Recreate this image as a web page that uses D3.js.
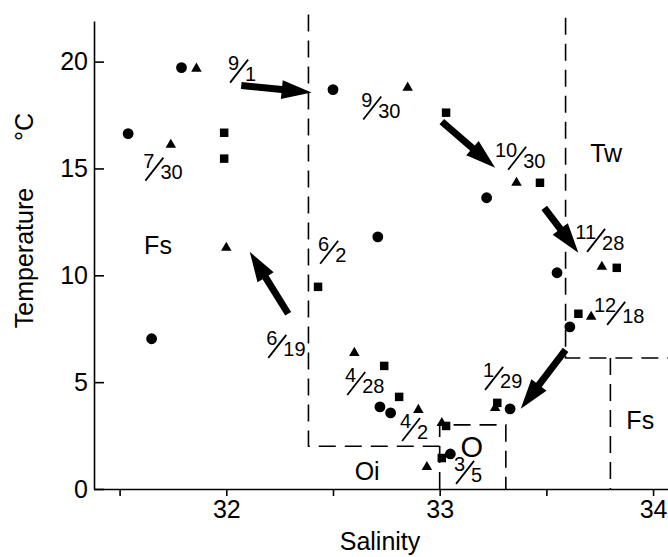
<!DOCTYPE html>
<html lang="en">
<head>
<meta charset="UTF-8">
<title>Temperature - Salinity</title>
<script src="https://d3js.org/d3.v7.min.js"></script>
<style>
  body { margin: 0; background: #fff; }
  svg { display: block; font-family: "Liberation Sans", Arial, sans-serif; }
  .axis path, .axis line { stroke: #000; stroke-width: 1.6; }
  .axis text { font-size: 25px; fill: #000; font-family: "Liberation Sans", Arial, sans-serif; }
  .bound { fill: none; stroke: #000; stroke-width: 1.6; stroke-dasharray: 17 9; }
  .arrow { fill: #000; }
  .frac { font-size: 20px; }
  .zone { font-size: 25px; }
  .title { font-size: 25px; }
</style>
</head>
<body>
<svg id="chart" width="668" height="557"></svg>
<script>
// [salinity, temperature] per sample, one array per symbol
const circles = [
  [31.79, 19.72], [31.54, 16.63], [31.65, 7.03], [32.50, 18.69],
  [32.71, 11.80], [33.22, 13.63], [33.55, 10.12], [33.61, 7.59],
  [33.33, 3.75], [32.72, 3.84], [32.77, 3.56], [33.05, 1.64]
];
const triangles = [
  [31.86, 19.67], [31.74, 16.11], [32.85, 18.78], [32.00, 11.29],
  [33.36, 14.33], [33.76, 10.40], [33.71, 8.06], [32.60, 6.37],
  [32.90, 3.70], [33.01, 3.09], [32.94, 1.03], [33.26, 3.79]
];
const squares = [
  [31.99, 16.67], [31.99, 15.46], [33.03, 17.61], [33.47, 14.33],
  [33.83, 10.35], [33.65, 8.20], [32.43, 9.46], [32.74, 5.76],
  [32.81, 4.31], [33.03, 2.95], [33.01, 1.45], [33.27, 4.03]
];

const xTicks = [31.5, 32, 32.5, 33, 33.5, 34];
const yTicks = [0, 5, 10, 15, 20];

// water mass boundaries (dashed)
const boundaries = [
  [[32.385, 22.2], [32.385, 2.0], [33.0, 2.0]],
  [[33.0, 0], [33.0, 3.0], [33.31, 3.0], [33.31, 0]],
  [[33.59, 22.05], [33.59, 6.13], [34.07, 6.13]],
  [[33.80, 6.13], [33.80, 0]]
];

// seasonal arrows: tail -> tip
const arrows = [
  [[32.07, 18.88], [32.40, 18.55]],
  [[33.01, 17.19], [33.26, 15.03]],
  [[33.49, 13.16], [33.65, 11.05]],
  [[33.59, 6.51], [33.38, 3.75]],
  [[32.29, 8.20], [32.11, 11.10]]
];

// date labels month/day
const dates = [
  {num: "9", den: "1", s: 32.06, t: 19.58},
  {num: "9", den: "30", s: 32.684, t: 17.85},
  {num: "10", den: "30", s: 33.363, t: 15.50},
  {num: "11", den: "28", s: 33.733, t: 11.66},
  {num: "12", den: "18", s: 33.827, t: 8.24},
  {num: "1", den: "29", s: 33.255, t: 5.20},
  {num: "3", den: "5", s: 33.119, t: 0.80},
  {num: "4", den: "2", s: 32.866, t: 2.81},
  {num: "4", den: "28", s: 32.609, t: 4.96},
  {num: "6", den: "19", s: 32.239, t: 6.70},
  {num: "6", den: "2", s: 32.482, t: 11.10},
  {num: "7", den: "30", s: 31.663, t: 14.99}
];

const zones = [
  {name: "Tw", s: 33.78, t: 15.74, size: 25},
  {name: "Fs", s: 31.68, t: 11.43, size: 25},
  {name: "Fs", s: 33.94, t: 3.23, size: 25},
  {name: "Oi", s: 32.66, t: 0.84, size: 25},
  {name: "O", s: 33.15, t: 1.97, size: 29}
];

const svg = d3.select("#chart");
const x = d3.scaleLinear().domain([31.38, 34.07]).range([94, 668]);
const y = d3.scaleLinear().domain([0, 21.9]).range([489, 21]);

// axes
const xAxis = svg.append("g")
  .attr("class", "axis")
  .attr("transform", `translate(0,${y(0)})`)
  .call(d3.axisBottom(x).tickValues(xTicks).tickSizeInner(7).tickSizeOuter(0).tickPadding(4)
    .tickFormat(d => Number.isInteger(d) ? d : ""));

svg.append("g")
  .attr("class", "axis")
  .attr("transform", `translate(${x.range()[0]},0)`)
  .call(d3.axisLeft(y).tickValues(yTicks).tickSizeInner(-10).tickSizeOuter(0).tickPadding(6));

// boundaries
const line = d3.line().x(d => x(d[0])).y(d => y(d[1]));
svg.selectAll(".bound").data(boundaries).enter().append("path")
  .attr("class", "bound")
  .attr("d", line);

// arrows
function arrowPath(a) {
  const x0 = x(a[0][0]), y0 = y(a[0][1]), x1 = x(a[1][0]), y1 = y(a[1][1]);
  const L = Math.hypot(x1 - x0, y1 - y0);
  const ux = (x1 - x0) / L, uy = (y1 - y0) / L;
  const nx = -uy, ny = ux;
  const hl = 30, hw = 9.5, sw = 3.5;
  const bx = x1 - ux * hl, by = y1 - uy * hl;
  const pts = [
    [x0 + nx * sw, y0 + ny * sw],
    [bx + nx * sw, by + ny * sw],
    [bx + nx * hw, by + ny * hw],
    [x1, y1],
    [bx - nx * hw, by - ny * hw],
    [bx - nx * sw, by - ny * sw],
    [x0 - nx * sw, y0 - ny * sw]
  ];
  return "M" + pts.map(p => p.join(",")).join("L") + "Z";
}
svg.selectAll(".arrow").data(arrows).enter().append("path")
  .attr("class", "arrow")
  .attr("d", arrowPath);

// symbols
const series = [
  {data: circles, type: d3.symbolCircle, size: 92},
  {data: triangles, type: d3.symbolTriangle, size: 48},
  {data: squares, type: d3.symbolSquare, size: 72}
];
series.forEach(sr => {
  svg.append("g").selectAll("path").data(sr.data).enter().append("path")
    .attr("transform", d => `translate(${x(d[0])},${y(d[1])})`)
    .attr("d", d3.symbol().type(sr.type).size(sr.size))
    .attr("fill", "#000");
});

// date labels
const dg = svg.append("g").selectAll("g").data(dates).enter().append("g")
  .attr("class", "frac")
  .attr("transform", d => `translate(${x(d.s)},${y(d.t)})`);
dg.append("text").attr("x", 0).attr("y", -1).attr("text-anchor", "end").text(d => d.num);
dg.append("line").attr("x1", -9).attr("y1", 12).attr("x2", 9).attr("y2", -11)
  .attr("stroke", "#000").attr("stroke-width", 1.8);
dg.append("text").attr("x", 6).attr("y", 10).attr("text-anchor", "start").text(d => d.den);

// zone labels
svg.append("g").selectAll("text").data(zones).enter().append("text")
  .attr("x", d => x(d.s))
  .attr("y", d => y(d.t))
  .attr("dy", "0.36em")
  .attr("text-anchor", "middle")
  .attr("font-size", d => d.size)
  .text(d => d.name);

// axis titles
svg.append("text").attr("class", "title")
  .attr("x", 380).attr("y", 550).attr("text-anchor", "middle").text("Salinity");
svg.append("text").attr("class", "title")
  .attr("transform", "translate(33,258) rotate(-90)").attr("text-anchor", "middle").text("Temperature");
svg.append("text").attr("class", "title")
  .attr("transform", "translate(33,127) rotate(-90)").attr("text-anchor", "middle").text("°C");
</script>
</body>
</html>
